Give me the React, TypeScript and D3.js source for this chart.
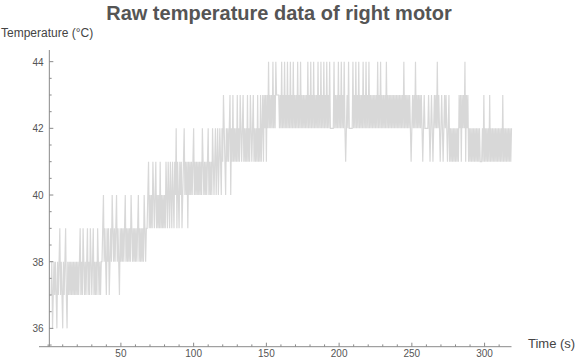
import React, { useEffect, useRef } from 'react';
import * as d3 from 'd3';

const title = 'Raw temperature data of right motor';
const yLabel = 'Temperature (°C)';
const xLabel = 'Time (s)';

// two readings per second starting at t = 2 s, each digit = temperature - 36 °C
const firstTime = 2;
const sampleStep = 0.5;
const baseTemp = 36;
const readings37 = [
    '120121210212312102123102', '1212121212121212', '312132121231213212312121321212',
]; // t 2-36
const readings38 = [
    '23423213231232432323', '42321323232342323232', '43232323234232323243', '23',
]; // t 37-67
const readings39 = ['34534343543453434353', '43434354', '35435435435463543545']; // t 68-91
const readings40 = ['34564545354545456454', '54545454654545456454', '54654564']; // t 92-115
const readings41 = [
    '56456546576546565674', '65756565756576567565', '65756576567565657565', '756757675768',
]; // t 116-151
const readings42 = [
    '67676867687777676867', '68676867686768676768', '67686767676768676867',
    '68676768676867686768', '67686666686767686768', '67686567686666686768',
    '67686767686768676867', '67676767686768676767', '68676767676767676767',
    '67676867676767',
]; // t 152-248
const readingsCool = ['65676768676767676567', '66666765676567676867', '65676567676567']; // t 249-275
const readingsEnd = [
    '565656565656', '57675767685767', '56565656565656565556',
    '57565656575656565656', '56565657565656565656',
]; // t 276-318

const xTickValues = [50, 100, 150, 200, 250, 300];
const yTickValues = [36, 38, 40, 42, 44];

const font = 'Liberation Sans, Arial, sans-serif';

export default function App() {
    const svgRef = useRef<SVGSVGElement>(null);

    useEffect(() => {
        const svg = d3.select(svgRef.current);
        svg.selectAll('*').remove();

        const x = d3.scaleLinear().domain([-6.3, 318.5]).range([39, 511.5]);
        const y = d3.scaleLinear().domain([35.45, 44.35]).range([346.7, 50]);

        const digits = [
            ...readings37, ...readings38, ...readings39, ...readings40,
            ...readings41, ...readings42, ...readingsCool, ...readingsEnd,
        ].join('');
        const data = digits.split('').map((c, i) => ({
            t: firstTime + i * sampleStep,
            v: baseTemp + Number(c),
        }));

        const line = d3.line<{ t: number; v: number }>()
            .x(d => x(d.t))
            .y(d => y(d.v));

        // raw signal
        svg.append('path')
            .datum(data)
            .attr('d', line)
            .attr('fill', 'none')
            .attr('stroke', '#d8d8d8')
            .attr('stroke-width', 1.2);

        const axisColor = '#8a8a8a';
        const x0 = x(0.8);
        const yAxisPos = y.range()[0];

        // x axis
        svg.append('line')
            .attr('x1', x.range()[0]).attr('x2', x.range()[1])
            .attr('y1', yAxisPos).attr('y2', yAxisPos)
            .attr('stroke', axisColor).attr('stroke-width', 1);

        // y axis
        svg.append('line')
            .attr('x1', x0).attr('x2', x0)
            .attr('y1', y.range()[0]).attr('y2', y.range()[1])
            .attr('stroke', axisColor).attr('stroke-width', 1);

        // x ticks
        const xMinor = d3.range(0, 320, 10).filter(t => !xTickValues.includes(t));
        svg.selectAll('.xminor').data(xMinor).enter().append('line')
            .attr('x1', d => x(d)).attr('x2', d => x(d))
            .attr('y1', yAxisPos).attr('y2', yAxisPos - 2.3)
            .attr('stroke', axisColor);
        svg.selectAll('.xmajor').data(xTickValues).enter().append('line')
            .attr('x1', d => x(d)).attr('x2', d => x(d))
            .attr('y1', yAxisPos).attr('y2', yAxisPos - 4)
            .attr('stroke', axisColor);
        svg.selectAll('.xlabel').data(xTickValues).enter().append('text')
            .attr('x', d => x(d))
            .attr('y', 356.5)
            .attr('text-anchor', 'middle')
            .style('font-family', font)
            .style('font-size', '10px')
            .style('fill', '#555')
            .text(d => d);

        // y ticks
        const yMinor = d3.range(35.5, 44.4, 0.5).filter(v => !yTickValues.includes(v));
        svg.selectAll('.yminor').data(yMinor).enter().append('line')
            .attr('x1', x0).attr('x2', x0 + 2.3)
            .attr('y1', d => y(d)).attr('y2', d => y(d))
            .attr('stroke', axisColor);
        svg.selectAll('.ymajor').data(yTickValues).enter().append('line')
            .attr('x1', x0).attr('x2', x0 + 4)
            .attr('y1', d => y(d)).attr('y2', d => y(d))
            .attr('stroke', axisColor);
        svg.selectAll('.ylabel').data(yTickValues).enter().append('text')
            .attr('x', 43.5)
            .attr('y', d => y(d) + 4)
            .attr('text-anchor', 'end')
            .style('font-family', font)
            .style('font-size', '10px')
            .style('fill', '#555')
            .text(d => d);

        // axis labels
        svg.append('text')
            .attr('x', 1).attr('y', 36.5)
            .style('font-family', font)
            .style('font-size', '12px')
            .style('fill', '#444')
            .text(yLabel);
        svg.append('text')
            .attr('x', 528).attr('y', 347.5)
            .style('font-family', font)
            .style('font-size', '13px')
            .style('fill', '#444')
            .text(xLabel);

        // title
        svg.append('text')
            .attr('x', 279).attr('y', 20)
            .attr('text-anchor', 'middle')
            .style('font-family', font)
            .style('font-size', '20px')
            .style('font-weight', 'bold')
            .style('fill', '#555')
            .text(title);
    }, []);

    return (
        <div style={{ position: 'absolute', left: 0, top: 0 }}>
            <svg ref={svgRef} width={576} height={359} style={{ display: 'block', background: '#fff' }} />
        </div>
    );
}
